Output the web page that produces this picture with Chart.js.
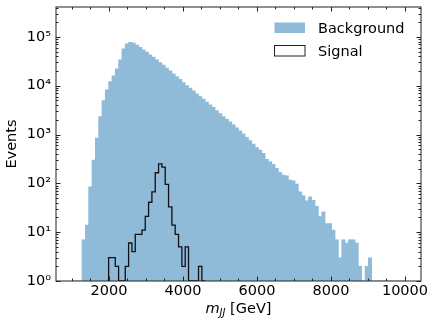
<!DOCTYPE html>
<html>
<head>
<meta charset="utf-8">
<script src="https://cdn.jsdelivr.net/npm/chart.js@4.4.1/dist/chart.umd.min.js"></script>
<style>
    html, body { margin: 0; padding: 0; background: #fff; }
    #wrap { width: 440px; height: 330px; }
</style>
</head>
<body>
<div id="wrap"><canvas id="mjjChart" width="440" height="330"></canvas></div>
<script>
// 100 bins of 90 GeV between 1000 and 10000 GeV
const binStart = 1000;
const binWidth = 90;

const backgroundCounts = [
    0, 0, 0, 7, 14, 85, 300, 850, 2330, 4970,
    8240, 12200, 16000, 22200, 34000, 57300, 72500, 77100, 75000, 68200,
    61000, 54600, 49000, 43100, 38600, 34000, 29900, 26500, 23000, 20200,
    17500, 15400, 13600, 11600, 10100, 8900, 7850, 6820, 6000, 5300,
    4600, 4050, 3630, 3090, 2690, 2330, 2060, 1815, 1575, 1370,
    1190, 1030, 880, 750, 640, 538, 483, 413, 311, 278,
    245, 203, 168, 148, 143, 117, 113, 97, 67, 56,
    44, 53, 45, 34, 21, 26, 15, 15, 11, 7,
    3, 7, 6, 7, 7, 6, 2, 1, 2, 3,
    0, 0, 0, 0, 0, 0, 0, 0, 0, 0
];

const signalCounts = [
    0, 0, 0, 0, 0, 0, 0, 0, 0, 0,
    0, 0, 3, 3, 2, 0, 0, 2, 6, 4,
    9, 9, 11, 21, 41, 67, 165, 250, 215, 95,
    33, 14, 9, 5, 2, 5, 0, 0, 0, 2,
    0, 0, 0, 0, 0, 0, 0, 0, 0, 0,
    0, 0, 0, 0, 0, 0, 0, 0, 0, 0,
    0, 0, 0, 0, 0, 0, 0, 0, 0, 0,
    0, 0, 0, 0, 0, 0, 0, 0, 0, 0,
    0, 0, 0, 0, 0, 0, 0, 0, 0, 0,
    0, 0, 0, 0, 0, 0, 0, 0, 0, 0
];

const xMin = 568;
const xMax = 10433;
const yMin = 1;
const yMax = 4.1e5;
const xMajorTicks = [2000, 4000, 6000, 8000, 10000];
const yMajorTicks = [1, 10, 100, 1000, 10000, 100000];
const yTickLabels = ['10\u2070', '10\u00b9', '10\u00b2', '10\u00b3', '10\u2074', '10\u2075'];

const bgColor = '#8fbbd9';
const fontFamily = '"DejaVu Sans", sans-serif';

// bars sit on bin centres
const backgroundPoints = backgroundCounts.map((c, i) => ({ x: binStart + binWidth * (i + 0.5), y: c }));

// step outline from bin edges; zero is put on the axis floor so the line drops to it
const first = signalCounts.findIndex(c => c > 0);
let last = signalCounts.length - 1;
while (signalCounts[last] === 0) last--;
const signalPoints = [];
for (let i = first - 1; i <= last + 1; i++) {
    signalPoints.push({ x: binStart + binWidth * i, y: Math.max(signalCounts[i] || 0, yMin) });
}

// inward ticks on all four sides plus the frame
const frameTicks = {
    id: 'frameTicks',
    afterDatasetsDraw(chart) {
        const { ctx, chartArea: a, scales: { x, y } } = chart;
        ctx.save();
        ctx.strokeStyle = '#222';
        ctx.lineWidth = 1;
        ctx.strokeRect(a.left, a.top, a.right - a.left, a.bottom - a.top);

        ctx.beginPath();
        for (let v = 1000; v <= xMax; v += 500) {
            const px = Math.round(x.getPixelForValue(v)) + 0.5;
            const len = xMajorTicks.includes(v) ? 4.5 : 2.5;
            ctx.moveTo(px, a.bottom); ctx.lineTo(px, a.bottom - len);
            ctx.moveTo(px, a.top); ctx.lineTo(px, a.top + len);
        }
        for (let k = 0; k <= 5; k++) {
            for (let m = 1; m <= 9; m++) {
                const v = m * Math.pow(10, k);
                if (v > yMax) continue;
                const py = Math.round(y.getPixelForValue(v)) + 0.5;
                const len = m === 1 ? 4.5 : 2.5;
                ctx.moveTo(a.left, py); ctx.lineTo(a.left + len, py);
                ctx.moveTo(a.right, py); ctx.lineTo(a.right - len, py);
            }
        }
        ctx.stroke();
        ctx.restore();
    },
    afterDraw(chart) {
        const { ctx, chartArea: a } = chart;
        ctx.save();
        ctx.fillStyle = '#000';
        ctx.textBaseline = 'alphabetic';

        // x axis title: m_JJ [GeV]
        const big = 'italic 14.5px ' + fontFamily;
        const small = 'italic 10px ' + fontFamily;
        const plain = '14.5px ' + fontFamily;
        ctx.font = big; const w1 = ctx.measureText('m').width;
        ctx.font = small; const w2 = ctx.measureText('JJ').width;
        ctx.font = plain; const w3 = ctx.measureText(' [GeV]').width;
        let tx = (a.left + a.right) / 2 - (w1 + w2 + w3) / 2;
        const base = 313;
        ctx.font = big; ctx.fillText('m', tx, base); tx += w1;
        ctx.font = small; ctx.fillText('JJ', tx, base + 3); tx += w2;
        ctx.font = plain; ctx.fillText(' [GeV]', tx, base);

        // legend
        const ds = chart.data.datasets;
        const bg = ds.find(d => d.type === 'bar');
        const sg = ds.find(d => d.type === 'line');
        ctx.fillStyle = bgColor;
        ctx.fillRect(274.5, 22.5, 30.5, 10.5);
        ctx.strokeStyle = '#222';
        ctx.lineWidth = 1;
        ctx.strokeRect(274.5, 45.5, 30.5, 10.5);
        ctx.fillStyle = '#000';
        ctx.font = plain;
        ctx.fillText(bg.label, 318, 33);
        ctx.fillText(sg.label, 318, 56);
        ctx.restore();
    }
};

new Chart(document.getElementById('mjjChart'), {
    type: 'bar',
    data: {
        datasets: [
            {
                type: 'bar',
                label: 'Background',
                data: backgroundPoints,
                backgroundColor: bgColor,
                borderWidth: 0,
                barPercentage: 1,
                categoryPercentage: 1,
                order: 2
            },
            {
                type: 'line',
                label: 'Signal',
                data: signalPoints,
                stepped: 'after',
                borderColor: '#111',
                borderWidth: 1.3,
                pointRadius: 0,
                fill: false,
                order: 1
            }
        ]
    },
    options: {
        responsive: false,
        animation: false,
        events: [],
        layout: { padding: { left: 0, right: 19, top: 7, bottom: 0 } },
        plugins: {
            legend: { display: false },
            tooltip: { enabled: false }
        },
        scales: {
            x: {
                type: 'linear',
                offset: false,
                min: xMin,
                max: xMax,
                grid: { display: false, drawTicks: false, offset: false },
                border: { display: false },
                ticks: {
                    autoSkip: false,
                    maxRotation: 0,
                    padding: 2,
                    color: '#000',
                    font: { family: fontFamily, size: 14.5 },
                    callback: value => String(value)
                },
                afterBuildTicks: scale => {
                    scale.ticks = xMajorTicks.map(v => ({ value: v }));
                },
                afterFit: scale => {
                    scale.height = 49;
                    scale.paddingLeft = 0;
                    scale.paddingRight = 0;
                }
            },
            y: {
                type: 'logarithmic',
                min: yMin,
                max: yMax,
                grid: { display: false, drawTicks: false },
                border: { display: false },
                ticks: {
                    autoSkip: false,
                    padding: 5,
                    color: '#000',
                    font: { family: fontFamily, size: 14.5 },
                    callback: value => {
                        const k = yMajorTicks.indexOf(value);
                        return k >= 0 ? yTickLabels[k] : '';
                    }
                },
                afterBuildTicks: scale => {
                    scale.ticks = yMajorTicks.map(v => ({ value: v }));
                },
                afterFit: scale => {
                    scale.width = 56;
                    scale.paddingTop = 0;
                    scale.paddingBottom = 0;
                },
                title: {
                    display: true,
                    text: 'Events',
                    color: '#000',
                    padding: { top: 4, bottom: 0 },
                    font: { family: fontFamily, size: 14.5 }
                }
            }
        }
    },
    plugins: [frameTicks]
});
</script>
</body>
</html>
